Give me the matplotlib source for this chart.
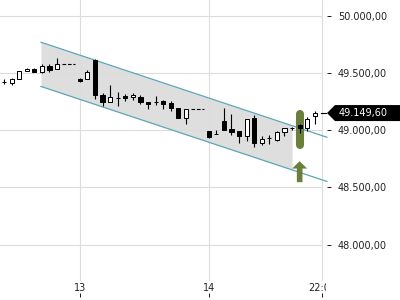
import matplotlib
matplotlib.use('Agg')
import matplotlib.pyplot as plt
import numpy as np
from matplotlib.patches import Polygon, Rectangle
from matplotlib.ticker import FuncFormatter
from matplotlib.transforms import IdentityTransform

# ---- data ----
idx = [0, 1, 2, 3, 4, 5, 6, 7,
       10, 11, 12, 13, 14, 15, 16, 17, 18, 19, 20, 21, 22, 23, 24,
       27, 28, 29, 30, 31, 32, 33, 34, 35, 36, 37, 38, 39, 40, 41]
opens = [49420, 49415, 49447, 49520, 49531, 49505, 49563, 49537,
         49450, 49450, 49616, 49304, 49246, 49280, 49295, 49286, 49292, 49243, 49245, 49251, 49234, 49194, 49107,
         48996, 48970, 49080, 49013, 48990, 48952, 49106, 48886, 48930, 48911, 48984, 49019, 49042, 49019, 49120]
highs = [49450, 49458, 49516, 49540, 49540, 49575, 49578, 49630,
         49452, 49522, 49624, 49321, 49397, 49334, 49319, 49325, 49307, 49245, 49295, 49266, 49251, 49196, 49186,
         48997, 48998, 49194, 49144, 48992, 49100, 49129, 48952, 48955, 48996, 49020, 49030, 49054, 49112, 49164]
lows = [49405, 49397, 49444, 49515, 49505, 49500, 49511, 49533,
        49424, 49448, 49272, 49208, 49244, 49208, 49258, 49266, 49231, 49188, 49223, 49185, 49164, 49106, 49057,
        48936, 48966, 49000, 48960, 48888, 48902, 48853, 48870, 48882, 48908, 48946, 49004, 48976, 48990, 49054]
closes = [49425, 49444, 49513, 49534, 49511, 49557, 49528, 49580,
          49426, 49505, 49304, 49243, 49286, 49277, 49278, 49304, 49243, 49231, 49242, 49229, 49190, 49107, 49185,
          48937, 48967, 49004, 48981, 48946, 49098, 48888, 48926, 48934, 48984, 49019, 49020, 49019, 49098, 49149.6]
gaps = [(8, 9), (25, 26)]

xtick_pos = [10, 27, 42]
xtick_labels = ['13', '14', '22:00']
ytick_vals = [48000, 48500, 49000, 49500, 50000]

channel_start = 4.88
channel_fill_end = 38.0
channel_line_end = 42.6
channel_upper0 = 49768
channel_lower0 = 49382
channel_slope = -22.0

signal_x = 39
pill_top = 49141
pill_bottom = 48871
arrow_tip = 48729
arrow_head_base = 48665
arrow_bottom = 48546

last_price = 49149.60

olive = '#6b7e3a'
teal = '#5ba8b4'

def fmt_price(v, pos=None):
    s = f"{v:,.2f}"
    return s.replace(',', 'X').replace('.', ',').replace('X', '.')

fig = plt.figure(figsize=(4, 3), dpi=100)
ax = fig.add_axes([0, 19 / 300, 323 / 400, 281 / 300])
ax.set_xlim(-0.53, 42.08)
ax.set_ylim(47683, 50137)

# grid
ax.set_xticks(xtick_pos)
ax.set_xticklabels(xtick_labels)
ax.set_yticks(ytick_vals)
ax.yaxis.set_major_formatter(FuncFormatter(fmt_price))
ax.grid(True, color='#dcdcdc', lw=0.8)
for s in ax.spines.values():
    s.set_visible(False)
ax.spines['right'].set_position(('outward', 2.88))
ax.spines['bottom'].set_position(('outward', 11.5))
ax.yaxis.tick_right()
ax.tick_params(axis='y', direction='out', length=2.88, width=0.72, pad=5,
               labelsize=7, colors='#222222')
ax.tick_params(axis='x', direction='in', length=2.88, width=0.72, pad=-10,
               labelsize=7, colors='#222222')

# channel
xf = np.array([channel_start, channel_fill_end])
ax.fill_between(xf, channel_lower0 + channel_slope * (xf - channel_start),
                channel_upper0 + channel_slope * (xf - channel_start),
                color='#c4c4c4', alpha=0.55, lw=0, zorder=1)
xl = np.array([channel_start, channel_line_end])
for base in (channel_upper0, channel_lower0):
    ax.plot(xl, base + channel_slope * (xl - channel_start), color=teal, lw=0.9,
            zorder=2, clip_on=False)

# signal pill and arrow
ax.plot([signal_x, signal_x], [pill_top, pill_bottom], color=olive, lw=5.8,
        solid_capstyle='round', zorder=2.5)
hw, sw = 0.99, 0.37
arrow_pts = [(signal_x, arrow_tip), (signal_x + hw, arrow_head_base),
             (signal_x + sw, arrow_head_base), (signal_x + sw, arrow_bottom),
             (signal_x - sw, arrow_bottom), (signal_x - sw, arrow_head_base),
             (signal_x - hw, arrow_head_base)]
ax.add_patch(Polygon(arrow_pts, closed=True, facecolor=olive, edgecolor='none', zorder=2.5))

# candles
o = np.array(opens); c = np.array(closes)
ax.vlines(idx, lows, highs, color='black', lw=0.8, zorder=3)
bottoms = np.minimum(o, c)
heights = np.abs(c - o)
colors = ['white' if cc >= oo else 'black' for oo, cc in zip(o, c)]
ax.bar(idx, heights, bottom=bottoms, width=0.55, color=colors, edgecolor='black',
       linewidth=0.72, zorder=4)

# gaps
for a, b in gaps:
    price = closes[idx.index(a - 1)]
    ax.hlines(price, a - 0.35, b + 0.35, color='black', lw=0.8,
              linestyles=[(0, (3.3, 1.6))], zorder=3)

# price tag (display coords)
fig.canvas.draw()
yc = ax.transData.transform((0, last_price))[1]
tag = Polygon([(327, yc), (335, yc + 8), (400, yc + 8), (400, yc - 8), (335, yc - 8)],
              closed=True, facecolor='black', edgecolor='none',
              transform=IdentityTransform(), zorder=10)
fig.add_artist(tag)
fig.add_artist(plt.Line2D([321, 325.5], [yc, yc], color='black', lw=0.8,
                          transform=IdentityTransform(), zorder=10))
fig.text(338.5 / 400, yc / 300, fmt_price(last_price), color='white', fontsize=7,
         va='center', ha='left', zorder=11)

# clip the last x label at the plot edge
fig.add_artist(Rectangle((326 / 400, 0), 74 / 400, 19 / 300, transform=fig.transFigure,
                         facecolor='white', edgecolor='none', zorder=9))

fig.savefig('out.png', dpi=100)
